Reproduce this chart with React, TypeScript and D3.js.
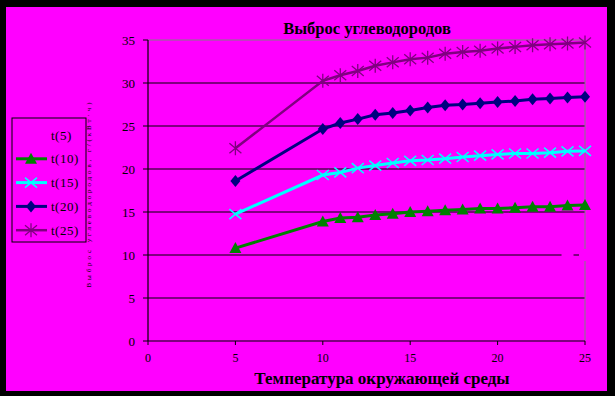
import React from "react";
import * as d3 from "d3";

const xValues = [5, 10, 11, 12, 13, 14, 15, 16, 17, 18, 19, 20, 21, 22, 23, 24, 25];
const t5 = [null, null, null, null, null, null, null, null, null, null, null, null, null, null, null, 10, 10];
const t10 = [10.8, 13.9, 14.3, 14.4, 14.65, 14.8, 15.0, 15.1, 15.2, 15.3, 15.4, 15.4, 15.5, 15.6, 15.6, 15.75, 15.8];
const t15 = [14.75, 19.3, 19.6, 20.1, 20.4, 20.7, 20.95, 21.05, 21.2, 21.4, 21.55, 21.7, 21.8, 21.8, 21.9, 22.05, 22.1];
const t20 = [18.6, 24.65, 25.35, 25.8, 26.3, 26.5, 26.8, 27.15, 27.4, 27.5, 27.65, 27.8, 27.9, 28.1, 28.2, 28.3, 28.4];
const t25 = [22.4, 30.25, 30.9, 31.4, 32.0, 32.4, 32.75, 32.95, 33.4, 33.6, 33.75, 34.0, 34.2, 34.4, 34.5, 34.6, 34.7];
const seriesNames = ["t(5)", "t(10)", "t(15)", "t(20)", "t(25)"];
const xTicks = [0, 5, 10, 15, 20, 25];
const yTicks = [0, 5, 10, 15, 20, 25, 30, 35];
const title = "Выброс углеводородов";
const xTitle = "Температура окружающей среды";
const yTitle = "Выброс углеводородов, г/(кВт·ч)";

const BG = "#FF00FF";
const series = [
  { name: seriesNames[0], values: t5, color: BG, marker: "square", line: false, width: 0 },
  { name: seriesNames[1], values: t10, color: "#008000", marker: "triangle", line: true, width: 3 },
  { name: seriesNames[2], values: t15, color: "#00FFFF", marker: "x", line: true, width: 3 },
  { name: seriesNames[3], values: t20, color: "#000080", marker: "diamond", line: true, width: 3 },
  { name: seriesNames[4], values: t25, color: "#800080", marker: "star", line: true, width: 2.5 },
];

function Marker({ type, x, y, color }: { type: string; x: number; y: number; color: string }) {
  const s = 6;
  if (type === "triangle") {
    return <path d={`M${x},${y - s}L${x + s},${y + 5}L${x - s},${y + 5}Z`} fill={color} />;
  }
  if (type === "diamond") {
    return <path d={`M${x},${y - 6}L${x + 5},${y}L${x},${y + 6}L${x - 5},${y}Z`} fill={color} />;
  }
  if (type === "square") {
    return <rect x={x - 6} y={y - 6} width={12} height={12} fill={color} />;
  }
  if (type === "x") {
    return (
      <path d={`M${x - 6},${y - 5}L${x + 6},${y + 5}M${x - 6},${y + 5}L${x + 6},${y - 5}`} stroke={color} strokeWidth={1.5} fill="none" />
    );
  }
  return (
    <path
      d={`M${x - 6},${y - 5}L${x + 6},${y + 5}M${x - 6},${y + 5}L${x + 6},${y - 5}M${x},${y - 7}L${x},${y + 7}`}
      stroke={color}
      strokeWidth={1.3}
      fill="none"
    />
  );
}

export default function App() {
  const W = 615, H = 396;
  const x = d3.scaleLinear().domain([0, 25]).range([148, 585]);
  const y = d3.scaleLinear().domain([0, 35]).range([341, 40]);
  const lineGen = d3
    .line<{ x: number; v: number | null }>()
    .defined((d) => d.v != null)
    .x((d) => x(d.x))
    .y((d) => y(d.v as number));
  const font = "'Liberation Serif', 'Times New Roman', serif";

  return (
    <svg width={W} height={H} style={{ position: "absolute", left: 0, top: 0 }} fontFamily={font}>
      <rect x={0} y={0} width={W} height={H} fill="#000" />
      <rect x={6} y={7} width={601} height={384} fill={BG} />

      {yTicks.filter((t) => t > 0 && t < 35).map((t) => (
        <line key={t} x1={x(0)} x2={x(25)} y1={y(t)} y2={y(t)} stroke="#000" strokeWidth={1} />
      ))}
      <line x1={x(0)} x2={x(25)} y1={y(35)} y2={y(35)} stroke="#808080" strokeWidth={1} />
      <line x1={x(25)} x2={x(25)} y1={y(35)} y2={y(0)} stroke="#808080" strokeWidth={1} />

      <line x1={x(0)} x2={x(0)} y1={y(35)} y2={y(0)} stroke="#000" strokeWidth={1.2} />
      <line x1={x(0)} x2={x(25)} y1={y(0)} y2={y(0)} stroke="#000" strokeWidth={1.2} />
      {yTicks.map((t) => (
        <g key={t}>
          <line x1={x(0) - 5} x2={x(0)} y1={y(t)} y2={y(t)} stroke="#000" />
          <text x={135} y={y(t) + 4.5} textAnchor="end" fontSize={13} fill="#000">
            {t}
          </text>
        </g>
      ))}
      {xTicks.map((t) => (
        <g key={t}>
          <line x1={x(t)} x2={x(t)} y1={y(0)} y2={y(0) + 4} stroke="#000" />
          <text x={x(t)} y={362} textAnchor="middle" fontSize={12} fill="#000">
            {t}
          </text>
        </g>
      ))}

      {series.map((s) => {
        const pts = xValues.map((xv, i) => ({ x: xv, v: s.values[i] }));
        return (
          <g key={s.name}>
            {s.line && <path d={lineGen(pts) || ""} fill="none" stroke={s.color} strokeWidth={s.width} />}
            {pts
              .filter((p) => p.v != null)
              .map((p, i) => (
                <Marker key={i} type={s.marker} x={x(p.x)} y={y(p.v as number)} color={s.color} />
              ))}
          </g>
        );
      })}

      <text x={367} y={34} textAnchor="middle" fontSize={16.5} fontWeight="bold" fill="#000">
        {title}
      </text>
      <text x={382} y={384} textAnchor="middle" fontSize={17} fontWeight="bold" fill="#000">
        {xTitle}
      </text>
      <text
        transform="translate(91,195) rotate(-90)"
        textAnchor="middle"
        fontSize={7}
        fill="#000"
        textLength={185}
        lengthAdjust="spacing"
      >
        {yTitle}
      </text>

      <rect x={12} y={118} width={74} height={124} fill="none" stroke="#000" strokeWidth={1} />
      {series.map((s, i) => {
        const cy = 135 + i * 23.8;
        return (
          <g key={s.name}>
            {s.line && <line x1={16} x2={47} y1={cy} y2={cy} stroke={s.color} strokeWidth={s.width} />}
            {s.line && <Marker type={s.marker} x={31} y={cy} color={s.color} />}
            <text x={51} y={cy + 4.5} fontSize={13} letterSpacing={0.5} fill="#000">
              {s.name}
            </text>
          </g>
        );
      })}
    </svg>
  );
}
